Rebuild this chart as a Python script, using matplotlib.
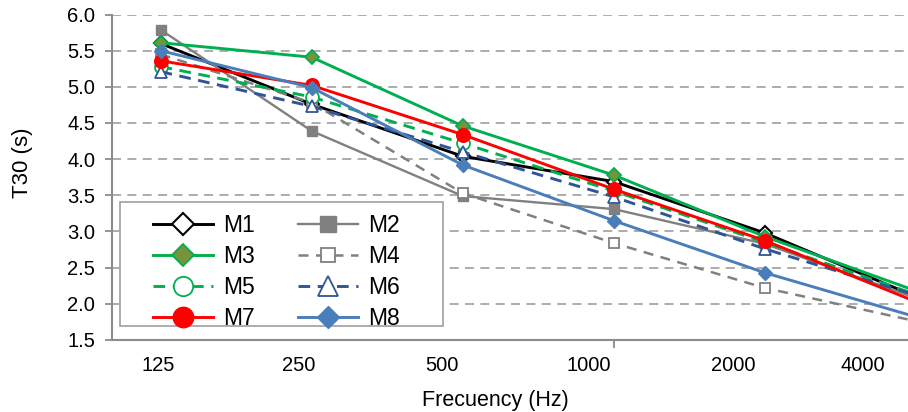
import numpy as np
import matplotlib
matplotlib.use("Agg")
import matplotlib.pyplot as plt
from matplotlib.patches import Rectangle

plt.rcParams['font.family'] = ['Liberation Sans', 'DejaVu Sans']

# ---------- data ----------
freqs = [125, 250, 500, 1000, 2000, 4000]
xtick_labels = ['125', '250', '500', '1000', '2000', '4000']

m1 = [5.60, 4.76, 4.04, 3.69, 2.98, 2.10]
m2 = [5.79, 4.39, 3.49, 3.31, 2.83, 2.08]
m3 = [5.61, 5.41, 4.46, 3.78, 2.93, 2.18]
m4 = [5.45, 4.78, 3.53, 2.84, 2.22, 1.76]
m5 = [5.28, 4.86, 4.22, 3.56, 2.85, 2.13]
m6 = [5.21, 4.73, 4.10, 3.48, 2.76, 2.12]
m7 = [5.36, 5.02, 4.34, 3.585, 2.875, 2.03]
m8 = [5.50, 4.99, 3.92, 3.15, 2.43, 1.82]

GREEN = '#00B050'
GRAY = '#808080'
DBLUE = '#2F5597'
BLUE = '#4A7EBB'

series = [
    ('M1', m1, dict(color='black', marker='D', ms=7.2, mfc='white', mec='black', mew=1.5, lw=2.1)),
    ('M2', m2, dict(color=GRAY, marker='s', ms=7.8, mfc=GRAY, mec=GRAY, lw=1.7)),
    ('M3', m3, dict(color=GREEN, marker='D', ms=7.2, mfc='#77933C', mec=GREEN, mew=1.3, lw=2.1)),
    ('M4', m4, dict(color=GRAY, marker='s', ms=6.8, mfc='white', mec=GRAY, mew=1.3, lw=1.8, ls=(0, (4, 3)))),
    ('M5', m5, dict(color=GREEN, marker='o', ms=9.3, mfc='white', mec=GREEN, mew=1.3, lw=2.1, ls=(0, (4, 2.6)))),
    ('M6', m6, dict(color=DBLUE, marker='^', ms=9.3, mfc='white', mec=DBLUE, mew=1.3, lw=2.1, ls=(0, (4, 2.6)))),
    ('M7', m7, dict(color='red', marker='o', ms=9.8, mfc='red', mec='red', lw=2.1)),
    ('M8', m8, dict(color=BLUE, marker='D', ms=7.2, mfc=BLUE, mec=BLUE, lw=2.1)),
]

# ---------- figure ----------
fig = plt.figure(figsize=(9.08, 4.12), dpi=100)
ax = fig.add_axes([0.1233, 0.1748, 0.8767, 0.79])

handles = {}
for name, vals, style in series:
    handles[name], = ax.plot(freqs, vals, label=name, **style)

ax.set_xscale('log')
ax.set_xlim(100, 3860)
ax.set_ylim(1.5, 6.0)
yt = np.arange(1.5, 6.01, 0.5)
ax.set_yticks(yt)
ax.set_yticklabels([f"{v:.1f}" for v in yt], fontsize=14.5)

ax.yaxis.grid(True, color='#A6A6A6', ls=(0, (5, 3.5)), lw=1.3)
ax.set_axisbelow(True)

for s in ['top', 'right']:
    ax.spines[s].set_visible(False)
for s in ['left', 'bottom']:
    ax.spines[s].set_color('#8C8C8C')
    ax.spines[s].set_linewidth(1.5)

ax.tick_params(axis='y', direction='out', length=5, width=1.3, color='#8C8C8C', pad=7)

# single major tick at 1000 (Excel log axis), labels placed as text
ax.xaxis.set_major_locator(matplotlib.ticker.FixedLocator([1000]))
ax.xaxis.set_minor_locator(matplotlib.ticker.NullLocator())
ax.set_xticklabels([''])
ax.tick_params(axis='x', direction='out', length=6, width=1.3, color='#8C8C8C')

label_pos = [0.0578, 0.235, 0.4146, 0.599, 0.780, 0.943]
for lab, xp in zip(xtick_labels, label_pos):
    ax.text(xp, -0.077, lab, transform=ax.transAxes, ha='center', va='center', fontsize=14.5)

ax.set_ylabel('T30 (s)', fontsize=16)
ax.yaxis.set_label_coords(-0.099, 0.544)
ax.set_xlabel('Frecuency (Hz)', fontsize=15.5, va='baseline')
ax.xaxis.set_label_coords(0.482, -0.2028)

# legend: white box + frameless legend, row-wise order like Excel
box = Rectangle((0.1322, 0.2087), 0.3557, 0.301, transform=fig.transFigure,
                facecolor='white', edgecolor='#A6A6A6', lw=1.3, zorder=9, clip_on=False)
ax.add_patch(box)

order = ['M1', 'M3', 'M5', 'M7', 'M2', 'M4', 'M6', 'M8']
leg = ax.legend([handles[k] for k in order], order, ncol=2, loc='upper left',
                bbox_to_anchor=(0.1685, 0.481), bbox_transform=fig.transFigure,
                fontsize=16.5, frameon=False, handlelength=2.6, handletextpad=0.45,
                columnspacing=1.9, labelspacing=0.35, borderpad=0, markerscale=1.5,
                borderaxespad=0)
leg.set_zorder(10)

fig.savefig('out.png', dpi=100)
